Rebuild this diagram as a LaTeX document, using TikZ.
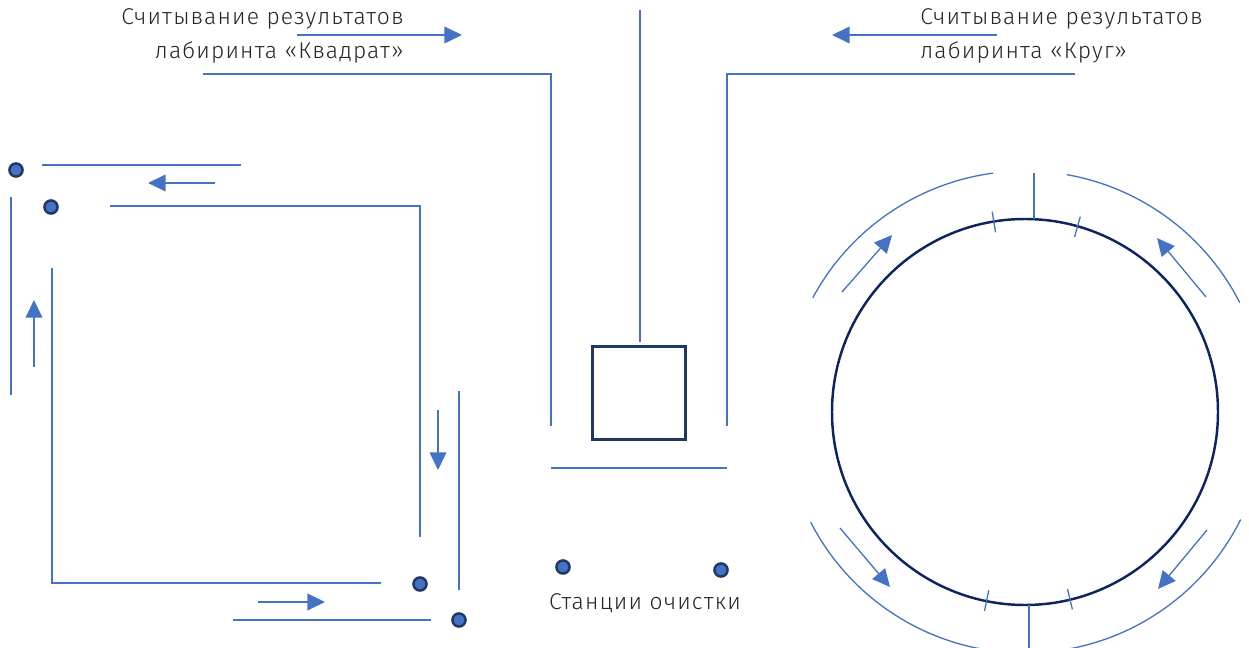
\documentclass[tikz,border=0pt]{standalone}
\usepackage{fontspec}
\setmainfont{Fira Sans}[UprightFont=* Light, LetterSpace=5]
\usetikzlibrary{arrows.meta}

\definecolor{lineblue}{HTML}{4472C4}
\definecolor{navy}{HTML}{0E2461}
\definecolor{boxnavy}{HTML}{1F3864}

\tikzset{
    wall/.style={draw=lineblue, line width=0.75pt},
    flow/.style={lineblue, line width=0.75pt, -{Triangle[length=10pt, width=9.5pt]}},
    station/.style={circle, fill=lineblue, draw=boxnavy, line width=1.4pt, inner sep=0pt, minimum size=7.5pt},
    caption/.style={inner sep=0pt, text=black!85, font=\fontsize{13}{19.5}\selectfont}
}

\begin{document}
\begin{tikzpicture}[x=0.02cm, y=0.02cm]
    \useasboundingbox (0, 0) rectangle (1249, 647);

    % labels
    \node[caption, anchor=east, align=right] (readsquare) at (404, 611) {Считывание результатов\\лабиринта «Квадрат»};
    \node[caption, anchor=west, align=left] (readcircle) at (920, 611) {Считывание результатов\\лабиринта «Круг»};
    \node[caption] (cleaning) at (645, 44) {Станции очистки};

    % centre
    \draw[wall] (203, 573) -- (551, 573) -- (551, 221);
    \draw[wall] (1075, 573) -- (727, 573) -- (727, 221);
    \draw[wall] (640, 637) -- (640, 305);
    \draw[wall] (551, 179) -- (727, 179);
    \draw[flow] (297, 612) -- (462, 612);
    \draw[flow] (997, 612) -- (832, 612);
    \node[draw=boxnavy, line width=1.4pt, minimum size=53pt, inner sep=0pt] (reader) at (639, 254) {};

    % square maze
    \draw[wall] (42, 482) -- (241, 482);
    \draw[wall] (110, 441) -- (420, 441) -- (420, 110);
    \draw[wall] (11, 450) -- (11, 252);
    \draw[wall] (52, 379) -- (52, 64) -- (381, 64);
    \draw[wall] (459, 256) -- (459, 57);
    \draw[wall] (233, 27) -- (431, 27);
    \draw[flow] (215, 464) -- (148, 464);
    \draw[flow] (34, 280) -- (34, 347);
    \draw[flow] (438, 237) -- (438, 177);
    \draw[flow] (258, 45) -- (325, 45);

    % circle maze
    \coordinate (hub) at (1025, 235);
    \draw[navy, line width=1.4pt] (hub) circle (193);
    \draw[wall] ([shift=(97.6:241)]hub) arc (97.6:151.7:241);
    \draw[wall] ([shift=(27:241)]hub) arc (27:80:241);
    \draw[wall] ([shift=(207.2:241)]hub) arc (207.2:263.2:241);
    \draw[wall] ([shift=(-80.8:241)]hub) arc (-80.8:-26.5:241);
    \draw[wall] (1034, 474) -- (1034, 428);
    \draw[wall] (1029, 42) -- (1029, -5);
    \foreach \a in {99.3, 74.2, 258.5, 283.5} {
        \draw[wall] ([shift=(\a:182)]hub) -- ([shift=(\a:203)]hub);
    }
    \draw[flow] (842, 355) -- (892, 412);
    \draw[flow] (1206, 350) -- (1157, 409);
    \draw[flow] (840, 119) -- (890, 60);
    \draw[flow] (1207, 117) -- (1158, 58);

    % stations
    \foreach \name/\x/\y in {sa/16/477, sb/51/440, sc/420/63, sd/459/27, se/563/80, sf/721/77} {
        \node[station] (\name) at (\x, \y) {};
    }
\end{tikzpicture}
\end{document}
